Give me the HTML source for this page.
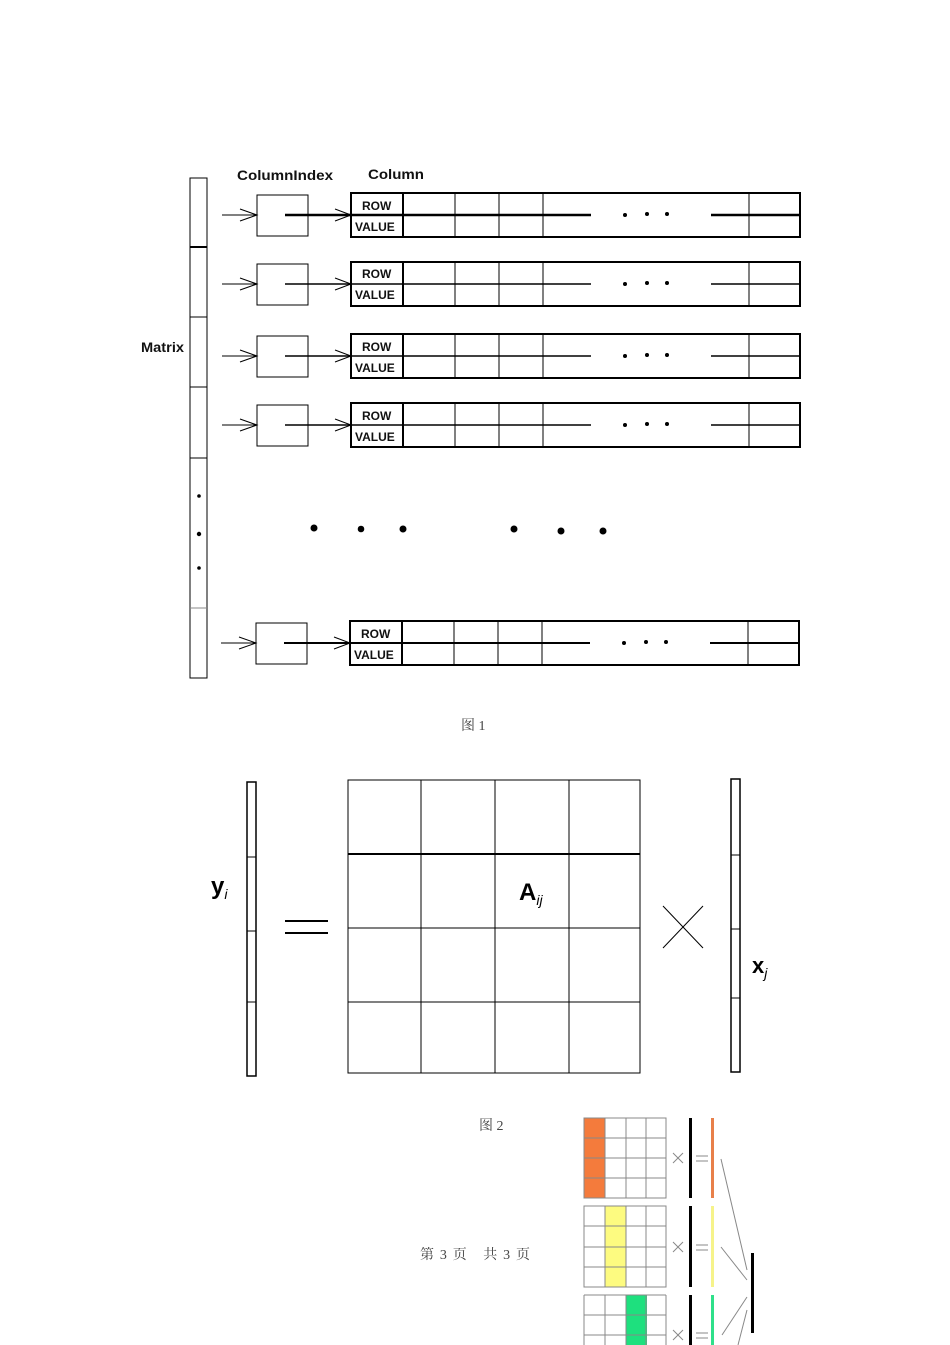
<!DOCTYPE html>
<html><head><meta charset="utf-8"><style>
html,body{margin:0;padding:0;background:#fff;}
svg{display:block;}
.t{font-family:"Liberation Sans",sans-serif;font-weight:bold;font-size:12px;fill:#111;}
.c{font-family:"Liberation Serif","Noto Serif CJK SC",serif;font-size:14px;fill:#444;}
</style></head><body>
<svg width="950" height="1345" viewBox="0 0 950 1345" xmlns="http://www.w3.org/2000/svg">
<defs>
<g id="row" stroke="#000" fill="none">
  <rect x="351" y="193" width="449" height="44" stroke-width="2"/>
  <line x1="285" y1="215" x2="591" y2="215" stroke-width="1.5"/>
  <line x1="711" y1="215" x2="800" y2="215" stroke-width="1.5"/>
  <line x1="403" y1="193" x2="403" y2="237" stroke-width="2"/>
  <line x1="455" y1="193" x2="455" y2="237"/>
  <line x1="499" y1="193" x2="499" y2="237"/>
  <line x1="543" y1="193" x2="543" y2="237"/>
  <line x1="749" y1="193" x2="749" y2="237"/>
  <rect x="257" y="195" width="51" height="41"/>
  <line x1="222" y1="215" x2="257" y2="215"/>
  <polyline points="240,209 257,215 240,221"/>
  <polyline points="335,209 351,215 335,221"/>
  <circle cx="625" cy="215" r="2" fill="#000" stroke="none"/>
  <circle cx="647" cy="214" r="2" fill="#000" stroke="none"/>
  <circle cx="667" cy="214" r="2" fill="#000" stroke="none"/>
</g>
</defs>
<text class="t" x="237" y="180" style="font-size:14px" textLength="96" lengthAdjust="spacingAndGlyphs">ColumnIndex</text>
<text class="t" x="368" y="179" style="font-size:14px" textLength="56" lengthAdjust="spacingAndGlyphs">Column</text>
<text class="t" x="141" y="352" style="font-size:14px" textLength="43" lengthAdjust="spacingAndGlyphs">Matrix</text>
<g stroke="#000" fill="none">
  <rect x="190" y="178" width="17" height="500"/>
  <line x1="190" y1="247" x2="207" y2="247" stroke-width="2"/>
  <line x1="190" y1="317" x2="207" y2="317"/>
  <line x1="190" y1="387" x2="207" y2="387"/>
  <line x1="190" y1="458" x2="207" y2="458"/>
  <line x1="190" y1="608" x2="207" y2="608" stroke="#888"/>
</g>
<g fill="#000">
  <circle cx="199" cy="496" r="1.8"/><circle cx="199" cy="534" r="2.2"/><circle cx="199" cy="568" r="1.8"/>
  <circle cx="314" cy="528" r="3.5"/><circle cx="361" cy="529" r="3.3"/><circle cx="403" cy="529" r="3.5"/>
  <circle cx="514" cy="529" r="3.5"/><circle cx="561" cy="531" r="3.5"/><circle cx="603" cy="531" r="3.5"/>
</g>
<use href="#row"/>
<line x1="285" y1="215" x2="591" y2="215" stroke="#000" stroke-width="2.5"/>
<line x1="711" y1="215" x2="800" y2="215" stroke="#000" stroke-width="2.5"/>
<use href="#row" transform="translate(0,69)"/>
<use href="#row" transform="translate(0,141)"/>
<use href="#row" transform="translate(0,210)"/>
<use href="#row" transform="translate(-1,428)"/>
<line x1="284" y1="643" x2="590" y2="643" stroke="#000" stroke-width="2"/>
<line x1="710" y1="643" x2="799" y2="643" stroke="#000" stroke-width="2"/>
<g class="t">
  <text x="362" y="210">ROW</text><text x="355" y="231">VALUE</text>
  <text x="362" y="278">ROW</text><text x="355" y="299">VALUE</text>
  <text x="362" y="351">ROW</text><text x="355" y="372">VALUE</text>
  <text x="362" y="420">ROW</text><text x="355" y="441">VALUE</text>
  <text x="361" y="638">ROW</text><text x="354" y="659">VALUE</text>
</g>
<text class="c" x="461" y="730">图 1</text>

<g stroke="#000" fill="none">
  <rect x="247" y="782" width="9" height="294" stroke-width="1.5"/>
  <line x1="247" y1="857" x2="256" y2="857"/><line x1="247" y1="931" x2="256" y2="931"/><line x1="247" y1="1002" x2="256" y2="1002"/>
  <rect x="348" y="780" width="292" height="293"/>
  <line x1="421" y1="780" x2="421" y2="1073"/><line x1="495" y1="780" x2="495" y2="1073"/><line x1="569" y1="780" x2="569" y2="1073"/>
  <line x1="348" y1="854" x2="640" y2="854" stroke-width="2"/><line x1="348" y1="928" x2="640" y2="928"/><line x1="348" y1="1002" x2="640" y2="1002"/>
  <line x1="285" y1="921" x2="328" y2="921" stroke-width="2"/><line x1="285" y1="933" x2="328" y2="933" stroke-width="2"/>
  <line x1="663" y1="906" x2="703" y2="948"/><line x1="703" y1="906" x2="663" y2="948"/>
  <rect x="731" y="779" width="9" height="293" stroke-width="1.5"/>
  <line x1="731" y1="855" x2="740" y2="855"/><line x1="731" y1="929" x2="740" y2="929"/><line x1="731" y1="998" x2="740" y2="998"/>
</g>
<text x="211" y="894" style="font-family:'Liberation Sans',sans-serif;font-weight:bold;font-size:24px">y<tspan font-size="14" font-style="italic" font-weight="normal" dy="5">i</tspan></text>
<text x="519" y="900" style="font-family:'Liberation Sans',sans-serif;font-weight:bold;font-size:24px">A<tspan font-size="14" font-style="italic" font-weight="normal" dy="5">ij</tspan></text>
<text x="752" y="973" style="font-family:'Liberation Sans',sans-serif;font-weight:bold;font-size:22px">x<tspan font-size="14" font-style="italic" font-weight="normal" dy="5">j</tspan></text>
<text class="c" x="479" y="1130">图 2</text>
<text class="c" x="420" y="1259" textLength="110">第 3 页　共 3 页</text>

<rect x="584" y="1118" width="21" height="80" fill="#f47b3c"/>
<rect x="605" y="1206" width="21" height="81" fill="#fdfb80"/>
<rect x="626" y="1295" width="21" height="50" fill="#1ee07e"/>
<g stroke="#888" fill="none" stroke-width="1">
  <rect x="584" y="1118" width="82" height="80"/>
  <line x1="605" y1="1118" x2="605" y2="1198"/><line x1="626" y1="1118" x2="626" y2="1198"/><line x1="646" y1="1118" x2="646" y2="1198"/>
  <line x1="584" y1="1138" x2="666" y2="1138"/><line x1="584" y1="1158" x2="666" y2="1158"/><line x1="584" y1="1178" x2="666" y2="1178"/>
  <rect x="584" y="1206" width="82" height="81"/>
  <line x1="605" y1="1206" x2="605" y2="1287"/><line x1="626" y1="1206" x2="626" y2="1287"/><line x1="646" y1="1206" x2="646" y2="1287"/>
  <line x1="584" y1="1226" x2="666" y2="1226"/><line x1="584" y1="1247" x2="666" y2="1247"/><line x1="584" y1="1267" x2="666" y2="1267"/>
  <line x1="584" y1="1295" x2="666" y2="1295"/><line x1="584" y1="1295" x2="584" y2="1345"/><line x1="666" y1="1295" x2="666" y2="1345"/>
  <line x1="605" y1="1295" x2="605" y2="1345"/><line x1="626" y1="1295" x2="626" y2="1345"/><line x1="646" y1="1295" x2="646" y2="1345"/>
  <line x1="584" y1="1315" x2="666" y2="1315"/><line x1="584" y1="1335" x2="666" y2="1335"/>
  <line x1="673" y1="1153" x2="683" y2="1163"/><line x1="683" y1="1153" x2="673" y2="1163"/>
  <line x1="673" y1="1242" x2="683" y2="1252"/><line x1="683" y1="1242" x2="673" y2="1252"/>
  <line x1="673" y1="1330" x2="683" y2="1340"/><line x1="683" y1="1330" x2="673" y2="1340"/>
  <line x1="696" y1="1156" x2="708" y2="1156"/><line x1="696" y1="1161" x2="708" y2="1161"/>
  <line x1="696" y1="1245" x2="708" y2="1245"/><line x1="696" y1="1250" x2="708" y2="1250"/>
  <line x1="696" y1="1333" x2="708" y2="1333"/><line x1="696" y1="1338" x2="708" y2="1338"/>
  <line x1="721" y1="1159" x2="747" y2="1270"/>
  <line x1="721" y1="1247" x2="747" y2="1280"/>
  <line x1="722" y1="1335" x2="747" y2="1297"/>
  <line x1="738" y1="1345" x2="747" y2="1310"/>
</g>
<rect x="689" y="1118" width="3" height="80" fill="#000"/>
<rect x="689" y="1206" width="3" height="81" fill="#000"/>
<rect x="689" y="1295" width="3" height="50" fill="#000"/>
<rect x="711" y="1118" width="3" height="80" fill="#e8804a"/>
<rect x="711" y="1206" width="3" height="81" fill="#f6f38a"/>
<rect x="711" y="1295" width="3" height="50" fill="#2ee08a"/>
<rect x="751" y="1253" width="3" height="80" fill="#000"/>
</svg>
</body></html>
